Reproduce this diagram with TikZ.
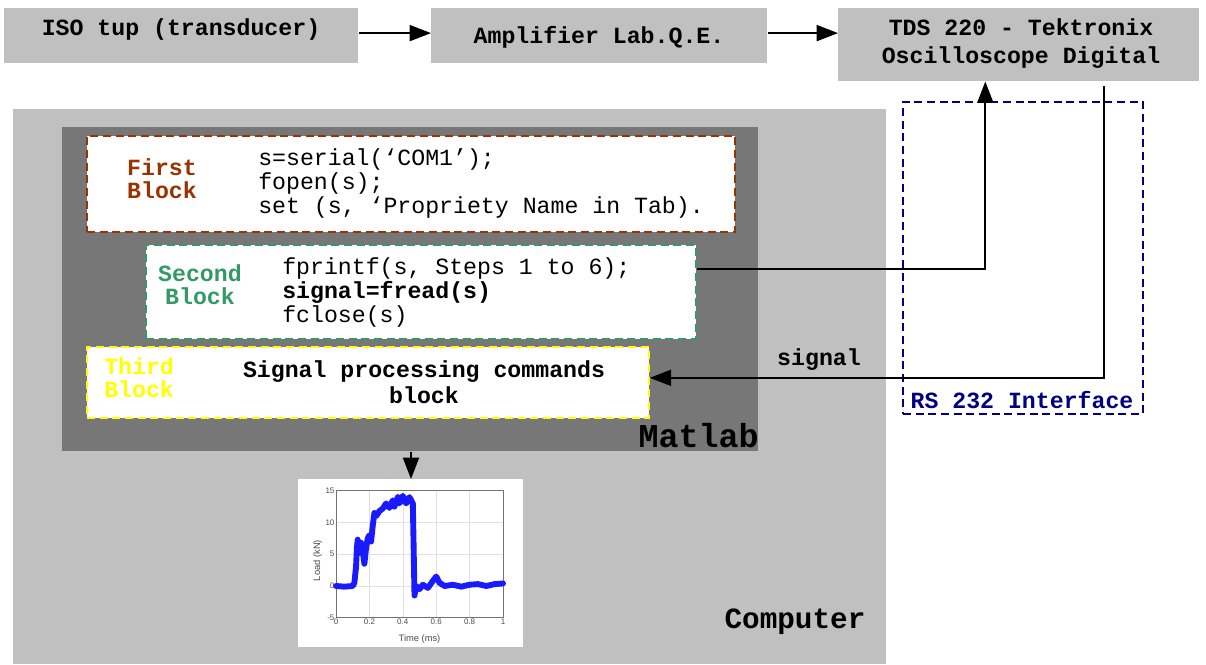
\documentclass[tikz,border=0pt]{standalone}
\usepackage{fontspec}
\setmainfont{Liberation Mono}
\setmonofont{Liberation Mono}
\newfontfamily\ticksans{Liberation Sans}
\usetikzlibrary{arrows.meta}

\definecolor{boxgray}{HTML}{C0C0C0}
\definecolor{labgray}{HTML}{777777}
\definecolor{firstcol}{HTML}{993300}
\definecolor{secondcol}{HTML}{339966}
\definecolor{thirdcol}{HTML}{FFFF00}
\definecolor{rscol}{HTML}{000080}
\definecolor{sigblue}{HTML}{1A1AFF}

\tikzset{
  fillbox/.style={rectangle, inner sep=0pt, anchor=north west},
  topbox/.style={fillbox, fill=boxgray},
  codeblock/.style={fillbox, fill=white, line width=1.3pt, dash pattern=on 6pt off 3.5pt},
  title/.style={font=\bfseries\fontsize{17.4}{21}\selectfont, align=center, inner sep=0pt},
  tag/.style={font=\bfseries\fontsize{17.4}{17.5}\selectfont, align=center, inner sep=0pt},
  code/.style={font=\fontsize{17.4}{18}\selectfont, align=left, anchor=west, inner sep=0pt},
  conn/.style={line width=1.4pt},
  arr/.style={conn, -{Triangle[length=16pt,width=12pt]}},
  tick/.style={font=\ticksans\fontsize{6}{6.5}\selectfont, text=black!70, inner sep=1pt}
}

\begin{document}
\begin{tikzpicture}[x=0.75pt, y=-0.75pt]
\useasboundingbox (0,0) rectangle (1206,664);

% --- measurement chain ---
\node[topbox, minimum width=265.5pt, minimum height=41.25pt] (iso) at (4,8) {};
\node[title] (isoT) at (181,30) {ISO tup (transducer)};
\node[topbox, minimum width=252pt, minimum height=41.25pt] (amp) at (431,8) {};
\node[title] (ampT) at (599,37) {Amplifier Lab.Q.E.};
\node[topbox, minimum width=270.75pt, minimum height=54.75pt] (tds) at (838,8) {};
\node[title] (tdsT) at (1021,44) {TDS 220 - Tektronix\\Oscilloscope Digital};

\draw[arr] ([yshift=2pt]iso.east) -- ([yshift=2pt]amp.west);
\draw[arr] ([yshift=2pt]amp.east) -- ([yshift=2pt]amp.east -| tds.west);

% --- computer and Matlab ---
\node[topbox, minimum width=654.75pt, minimum height=416.25pt] (pc) at (13,109) {};
\node[font=\bfseries\fontsize{22}{24}\selectfont, inner sep=0pt] (pcT) at (795,622) {Computer};
\node[fillbox, fill=labgray, minimum width=522pt, minimum height=243pt] (mat) at (62,127) {};
\node[font=\bfseries\fontsize{25}{26}\selectfont, inner sep=0pt, anchor=east] (matT) at (759,436) {Matlab};

% first block
\node[codeblock, draw=firstcol, minimum width=486pt, minimum height=72pt] (first) at (86,135) {};
\node[tag, text=firstcol] (firstT) at (162,179) {First\\Block};
\node[code] (firstC) at (258,183) {s=serial(‘COM1’);\\fopen(s);\\set (s, ‘Propriety Name in Tab).};

% second block
\node[codeblock, draw=secondcol, minimum width=412.5pt, minimum height=70.5pt] (second) at (145,244) {};
\node[tag, text=secondcol] (secondT) at (200,285) {Second\\Block};
\node[code] (secondC) at (282,292) {fprintf(s, Steps 1 to 6);\\\textbf{signal=fread(s)}\\fclose(s)};

% third block
\node[codeblock, draw=thirdcol, minimum width=421.5pt, minimum height=53.25pt] (third) at (86,346) {};
\node[tag, text=thirdcol, align=left, anchor=west] (thirdT) at (104,378) {Third\\Block};
\node[title, font=\bfseries\fontsize{17.4}{19.5}\selectfont] (thirdC) at (424,382) {Signal processing commands\\block};

% --- serial interface ---
\node[fillbox, draw=rscol, line width=1.3pt, dash pattern=on 6pt off 3.5pt, minimum width=180pt, minimum height=234pt] (rs) at (902,101) {};
\node[tag, text=rscol] (rsT) at (1022,400) {RS 232 Interface};

\draw[arr] ([yshift=17.25pt]second.east) -| ([xshift=-25.1pt]tds.south);
\draw[arr] ([xshift=64.1pt,yshift=-3pt]tds.south) |- ([yshift=3.4pt]third.east);
\node[tag] (sigT) at (819,360) {signal};

% --- recorded signal plot ---
\node[fillbox, fill=white, minimum width=168.75pt, minimum height=126pt] (plot) at (298,479) {};
\draw[arr] (411,0 |- mat.south) -- (411,0 |- plot.north);

\begin{scope}[shift={(336,586)}, x=125.25pt, y=4.7625pt]
  \foreach \t in {0.2,0.4,0.6,0.8}
    \draw[black!12, line width=0.4pt] (\t,-5) -- (\t,15);
  \foreach \l in {0,5,10}
    \draw[black!12, line width=0.4pt] (0,\l) -- (1,\l);
  \draw[black!55, line width=0.5pt] (0,-5) rectangle (1,15);
  \foreach \t/\s in {0/0,0.2/0.2,0.4/0.4,0.6/0.6,0.8/0.8,1/1}
    \node[tick, anchor=north] at (\t,-5) {\s};
  \foreach \l in {-5,0,5,10,15}
    \node[tick, anchor=east] at (0,\l) {\l};
  \node[tick, font=\ticksans\fontsize{7}{7.5}\selectfont, anchor=north] at (0.5,-7.4) {Time (ms)};
  \node[tick, font=\ticksans\fontsize{7}{7.5}\selectfont, rotate=90] at (-0.11,4) {Load (kN)};
  \draw[sigblue, line width=4.4pt, line join=round, line cap=round]
    (0,0) -- (0.05,-0.1) -- (0.1,0) -- (0.11,0.5) -- (0.12,3) -- (0.125,6)
    -- (0.13,7.3) -- (0.14,5.2) -- (0.15,6.8) -- (0.16,5.5) -- (0.17,3.5)
    -- (0.18,6) -- (0.19,7.5) -- (0.2,8) -- (0.21,7) -- (0.22,9.5)
    -- (0.23,11.5) -- (0.24,11) -- (0.26,11.8) -- (0.28,12.2) -- (0.3,13)
    -- (0.32,12.3) -- (0.34,13.5) -- (0.35,12.5) -- (0.37,14) -- (0.38,13)
    -- (0.4,14.2) -- (0.42,13) -- (0.44,14) -- (0.46,13) -- (0.465,6)
    -- (0.47,-1.5) -- (0.48,0) -- (0.5,-0.5) -- (0.52,0.2) -- (0.55,-0.3)
    -- (0.58,0.8) -- (0.6,1.5) -- (0.62,0.5) -- (0.65,0) -- (0.7,0.2)
    -- (0.75,-0.1) -- (0.8,0.2) -- (0.85,0.3) -- (0.9,0) -- (0.95,0.3) -- (1,0.4);
\end{scope}
\end{tikzpicture}
\end{document}
